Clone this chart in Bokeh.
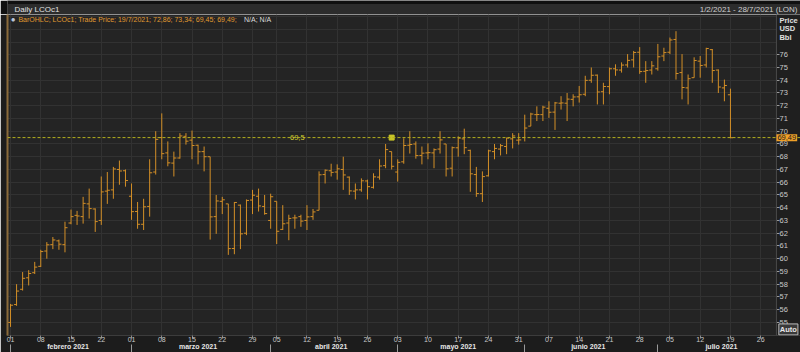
import numpy as np
import pandas as pd
from bokeh.plotting import figure
from bokeh.layouts import column
from bokeh.core.properties import value
from bokeh.models import (LinearAxis, FixedTicker, Span, Label, Range1d,
                          ColumnDataSource, BoxAnnotation)
from bokeh.embed import file_html
from bokeh.resources import INLINE

# ---------------- data ----------------
dates = pd.bdate_range("2021-02-01", "2021-07-19").drop(pd.Timestamp("2021-04-02"))

open_ = [55.0, 56.4, 57.6, 58.5, 58.9, 59.4, 60.6, 61.1, 61.4, 61.1,
         62.8, 63.4, 63.3, 64.3, 63.9, 63.0, 65.3, 65.4, 67.0, 66.9,
         64.9, 63.7, 62.7, 64.1, 66.8, 69.5, 68.3, 67.5, 67.9, 69.6,
         69.3, 68.9, 68.4, 68.0, 63.3, 64.5, 64.3, 60.8, 64.2, 62.0,
         64.6, 64.9, 64.1, 63.0, 64.5, 62.3, 62.8, 63.2, 63.3, 63.0,
         63.3, 63.8, 66.6, 66.9, 66.8, 67.0, 66.4, 65.3, 65.4, 66.1,
         65.6, 66.4, 67.3, 68.4, 66.8, 67.6, 68.9, 69.0, 68.1, 68.3,
         68.3, 68.6, 69.0, 67.1, 68.7, 69.4, 68.5, 66.6, 65.1, 66.5,
         68.4, 68.6, 68.8, 69.4, 69.3, 69.5, 70.4, 71.3, 71.3, 71.8,
         71.5, 72.2, 72.2, 72.5, 72.7, 72.9, 74.0, 74.4, 73.1, 73.5,
         74.9, 74.8, 75.2, 75.6, 76.2, 74.7, 74.8, 74.9, 75.9, 76.2,
         77.2, 74.6, 73.4, 74.2, 75.5, 75.2, 76.4, 74.8, 73.4, 72.86]
high = [56.45, 58.0, 58.95, 59.1, 59.75, 60.7, 61.3, 61.7, 61.5, 62.9,
        63.85, 63.75, 64.85, 65.5, 63.95, 66.45, 66.8, 67.2, 67.7, 67.0,
        65.9, 64.45, 64.7, 67.8, 70.0, 71.4, 69.2, 68.4, 69.85, 69.85,
        70.05, 68.95, 68.8, 68.0, 65.0, 64.85, 64.3, 64.45, 64.25, 64.65,
        65.4, 65.5, 65.0, 65.1, 64.5, 64.2, 63.45, 63.45, 63.45, 64.2,
        63.9, 66.85, 67.0, 67.45, 67.4, 68.0, 66.45, 65.9, 66.3, 66.2,
        66.7, 67.8, 69.0, 68.4, 67.8, 69.45, 70.0, 69.2, 68.8, 69.05,
        68.65, 70.0, 69.0, 68.8, 69.6, 70.2, 68.55, 67.2, 66.85, 68.55,
        69.0, 69.0, 69.5, 69.85, 69.85, 71.3, 71.45, 71.95, 72.0, 72.35,
        72.3, 72.75, 73.0, 72.9, 73.55, 74.35, 75.0, 74.45, 73.8, 75.0,
        75.25, 75.4, 76.05, 76.3, 76.6, 75.5, 75.5, 76.85, 76.55, 77.35,
        77.85, 76.05, 74.45, 75.8, 75.9, 76.55, 76.45, 74.85, 74.05, 73.34]
low = [54.65, 56.3, 57.5, 57.9, 58.8, 59.35, 60.0, 60.75, 60.7, 60.5,
       62.7, 62.65, 62.75, 63.15, 62.1, 62.65, 64.3, 64.7, 65.8, 65.65,
       63.05, 62.35, 62.25, 63.3, 66.6, 67.8, 67.25, 66.45, 67.85, 68.95,
       67.8, 67.4, 66.85, 61.5, 61.95, 63.5, 60.3, 60.35, 60.75, 61.85,
       63.5, 63.7, 63.45, 62.35, 61.15, 62.25, 61.45, 62.35, 62.5, 62.25,
       63.05, 63.8, 65.9, 66.45, 66.2, 65.4, 65.0, 64.65, 65.25, 64.65,
       65.5, 66.2, 67.1, 67.0, 66.05, 67.45, 68.25, 67.85, 67.4, 67.8,
       67.1, 68.25, 66.45, 66.45, 68.0, 68.2, 65.25, 64.85, 64.45, 66.45,
       67.8, 68.1, 68.2, 68.65, 68.95, 69.2, 70.4, 70.8, 70.8, 71.05,
       70.1, 71.7, 70.8, 71.95, 72.25, 72.75, 73.8, 72.1, 72.1, 72.9,
       74.35, 74.6, 75.0, 75.0, 74.5, 73.8, 74.45, 74.75, 75.5, 76.05,
       74.05, 72.5, 72.1, 74.2, 74.2, 75.0, 73.8, 73.0, 72.35, 69.45]
close = [56.35, 57.46, 58.46, 58.84, 59.34, 60.56, 61.09, 61.47, 61.14, 62.43,
         63.30, 63.35, 64.34, 63.93, 62.91, 65.24, 65.37, 67.04, 66.88, 66.13,
         63.69, 62.70, 64.07, 66.74, 69.36, 68.24, 67.52, 67.90, 69.63, 69.22,
         68.88, 68.39, 68.00, 63.28, 64.53, 64.62, 60.79, 64.41, 61.95, 64.57,
         64.98, 64.14, 63.54, 64.86, 62.15, 62.74, 63.16, 63.20, 62.95, 63.28,
         63.67, 66.58, 66.94, 66.77, 67.05, 66.57, 65.32, 65.40, 66.11, 65.65,
         66.42, 67.27, 68.56, 67.25, 67.56, 68.88, 68.96, 68.09, 68.28, 68.32,
         68.55, 69.32, 67.05, 68.71, 69.46, 68.71, 66.66, 65.11, 66.44, 68.46,
         68.65, 68.87, 69.46, 69.63, 69.32, 70.25, 71.35, 71.31, 71.89, 71.49,
         72.22, 72.22, 72.52, 72.69, 72.86, 73.99, 74.39, 73.08, 73.51, 74.90,
         74.81, 75.19, 75.56, 76.18, 74.68, 74.76, 75.13, 75.84, 76.17, 77.16,
         74.53, 73.43, 74.12, 75.55, 75.16, 76.49, 74.76, 73.47, 73.59, 69.49]

week_dates = ["2021-02-01", "2021-02-08", "2021-02-15", "2021-02-22", "2021-03-01",
              "2021-03-08", "2021-03-15", "2021-03-22", "2021-03-29", "2021-04-05",
              "2021-04-12", "2021-04-19", "2021-04-26", "2021-05-03", "2021-05-10",
              "2021-05-17", "2021-05-24", "2021-05-31", "2021-06-07", "2021-06-14",
              "2021-06-21", "2021-06-28", "2021-07-05", "2021-07-12", "2021-07-19",
              "2021-07-26"]
week_labels = ["01", "08", "15", "22", "01", "08", "15", "22", "29", "05", "12", "19",
               "26", "03", "10", "17", "24", "31", "07", "14", "21", "28", "05", "12",
               "19", "26"]
month_starts = ["2021-02-01", "2021-03-01", "2021-04-01", "2021-05-03", "2021-06-01", "2021-07-01"]
month_ends = ["2021-02-26", "2021-03-31", "2021-04-30", "2021-05-31", "2021-06-30", "2021-07-30"]
month_names = ["febrero 2021", "marzo 2021", "abril 2021", "mayo 2021", "junio 2021", "julio 2021"]
price_ticks = list(range(55, 77))
grid_levels = list(range(54, 80))
ref_level = 69.5
ref_label = "69,5"
ref_marker_date = "2021-04-30"
last_price = 69.49
last_label = "69,49"
chart_title = "Daily LCOc1"
date_span = "1/2/2021 - 28/7/2021 (LON)"
header_text = "BarOHLC; LCOc1; Trade Price; 19/7/2021; 72,86; 73,34; 69,45; 69,49;"
header_tail = "N/A; N/A"
unit_lines = ["Price", "USD", "Bbl"]

# ---------------- helpers ----------------
last_date = dates[-1]
def pos(d):
    d = pd.Timestamp(d)
    if d in dates:
        return int(dates.get_loc(d))
    return int(len(dates) - 1 + np.busday_count(last_date.date(), d.date()))

x = np.arange(len(dates))
src = ColumnDataSource(dict(x=x, xl=x - 0.42, xr=x + 0.42,
                            o=open_, h=high, l=low, c=close))

week_pos = [pos(d) for d in week_dates]
m_start = [pos(d) for d in month_starts]
m_center = [(pos(a) + pos(b)) / 2 for a, b in zip(month_starts, month_ends)]

FONT = "Liberation Sans"
BAR = "#d38f27"
TXT = "#c9c9c9"
X_END = 126.6        # right edge of the price area (axis line)

# ---------------- header strip ----------------
hdr = figure(width=800, height=14, output_backend="svg", toolbar_location=None,
             x_range=Range1d(0, 800), y_range=Range1d(14, 0),
             x_axis_type=None, y_axis_type=None,
             min_border_left=0, min_border_right=0, min_border_top=0, min_border_bottom=0,
             background_fill_color="#101010", border_fill_color="#101010",
             outline_line_color=None)
hdr.grid.visible = False
hdr.quad(left=[0], right=[800], top=[3.5], bottom=[14], fill_color="#2c2c2c", line_color=None)
hdr.text(x=[7], y=[9], text=[chart_title], text_font=value(FONT), text_font_size="8px",
         text_color="#e2e2e2", text_baseline="middle")
hdr.text(x=[797], y=[9], text=[date_span], text_font=value(FONT), text_font_size="8px",
         text_color="#cfcfcf", text_baseline="middle", text_align="right")

# ---------------- main chart ----------------
p = figure(width=800, height=338, output_backend="svg", toolbar_location=None,
           x_range=Range1d(-0.5, 130.58), y_range=Range1d(53.974, 79.158),
           y_axis_location="right", min_border_left=7, min_border_right=0,
           min_border_top=0, min_border_bottom=0,
           background_fill_color="#242424", border_fill_color="#1c1c1c",
           outline_line_color=None)

p.xgrid.ticker = FixedTicker(ticks=week_pos)
p.ygrid.ticker = FixedTicker(ticks=grid_levels)
p.xgrid.grid_line_color = "#323232"
p.ygrid.grid_line_color = "#323232"

# price-scale strip on the right
p.add_layout(BoxAnnotation(left=X_END, level="underlay", fill_color="#1f1f1f",
                           fill_alpha=1, line_color=None))
p.add_layout(Span(location=X_END, dimension="height", line_color="#4a4a4a", line_width=1))

ya = p.yaxis[0]
ya.ticker = FixedTicker(ticks=price_ticks)
ya.major_label_text_font = FONT
ya.major_label_text_font_size = "7.5px"
ya.major_label_text_color = TXT
ya.major_tick_in = 24
ya.major_tick_out = -21
ya.minor_tick_in = 0
ya.minor_tick_out = -21
ya.minor_tick_line_color = None
ya.major_tick_line_color = "#9a9a9a"
ya.axis_line_color = None
ya.major_label_standoff = -21

la = LinearAxis(ticker=FixedTicker(ticks=[]), axis_line_color="#8a6a3a",
                axis_line_width=2, major_label_text_font_size="0px",
                major_tick_line_color=None, minor_tick_line_color=None)
p.add_layout(la, "left")

xa = p.xaxis[0]
xa.ticker = FixedTicker(ticks=week_pos)
xa.major_label_overrides = {k: v for k, v in zip(week_pos, week_labels)}
xa.major_label_text_font = FONT
xa.major_label_text_font_size = "7px"
xa.major_label_text_color = TXT
xa.major_tick_out = 3
xa.major_tick_in = 0
xa.major_tick_line_color = "#8a8a8a"
xa.minor_tick_line_color = None
xa.axis_line_color = "#3c3c3c"
xa.major_label_standoff = -2

ma = LinearAxis(ticker=FixedTicker(ticks=m_center, minor_ticks=m_start),
                major_label_overrides={k: v for k, v in zip(m_center, month_names)},
                major_label_text_font=FONT, major_label_text_font_size="7px",
                major_label_text_font_style="bold", major_label_text_color="#e6e6e6",
                major_tick_out=0, major_tick_in=0, major_tick_line_color=None,
                minor_tick_out=0, minor_tick_in=-9, minor_tick_line_color="#9a9a9a",
                axis_line_color=None, major_label_standoff=-2)
p.add_layout(ma, "below")

# OHLC bars
p.segment(x0="x", y0="l", x1="x", y1="h", source=src, line_color=BAR, line_width=1)
p.segment(x0="xl", y0="o", x1="x", y1="o", source=src, line_color=BAR, line_width=1)
p.segment(x0="x", y0="c", x1="xr", y1="c", source=src, line_color=BAR, line_width=1)

# reference line
p.add_layout(Span(location=ref_level, dimension="width", line_color="#b4b01e",
                  line_dash="3 2", line_width=1))
p.scatter([pos(ref_marker_date)], [ref_level], marker="square", size=5,
          fill_color="#c8c428", line_color="#c8c428")
p.add_layout(Label(x=47.4, y=ref_level, text=ref_label, text_font=FONT,
                   text_font_size="7.5px", text_color="#d0cc30",
                   text_baseline="middle", text_align="center"))

# series header inside the plot
p.add_layout(Label(x=0.45, y=78.76, text="\u25cf", text_font=FONT,
                   text_font_size="8px", text_color="#b8c4d8", text_baseline="middle",
                   text_align="center"))
p.add_layout(Label(x=1.3, y=78.76, text=header_text, text_font=FONT,
                   text_font_size="7px", text_color="#e09a30", text_baseline="middle"))
p.add_layout(Label(x=38.6, y=78.76, text=header_tail, text_font=FONT,
                   text_font_size="7px", text_color="#dcdcdc", text_baseline="middle"))

# price-scale extras
for yv, t in zip([78.68, 78.05, 77.34], unit_lines):
    p.add_layout(Label(x=127.1, y=yv, text=t, text_font=FONT, text_font_size="7.5px",
                       text_font_style="bold", text_color="#e0e0e0",
                       text_baseline="middle"))
p.add_layout(Label(x=X_END, y=last_price, text=last_label, text_font=FONT,
                   text_font_size="7.5px", text_color="#1a1a1a", text_baseline="middle",
                   background_fill_color="#f0a028", padding=1))
p.add_layout(Label(x=127.0, y=54.45, text="Auto", text_font=FONT, text_font_size="7.5px",
                   text_font_style="bold", text_color="#e8e8e8", text_baseline="middle",
                   background_fill_color="#3a3a3a", border_line_color="#bdbdbd",
                   padding=1))

layout = column(hdr, p, spacing=0)
open("out.html", "w").write(file_html(layout, INLINE))
